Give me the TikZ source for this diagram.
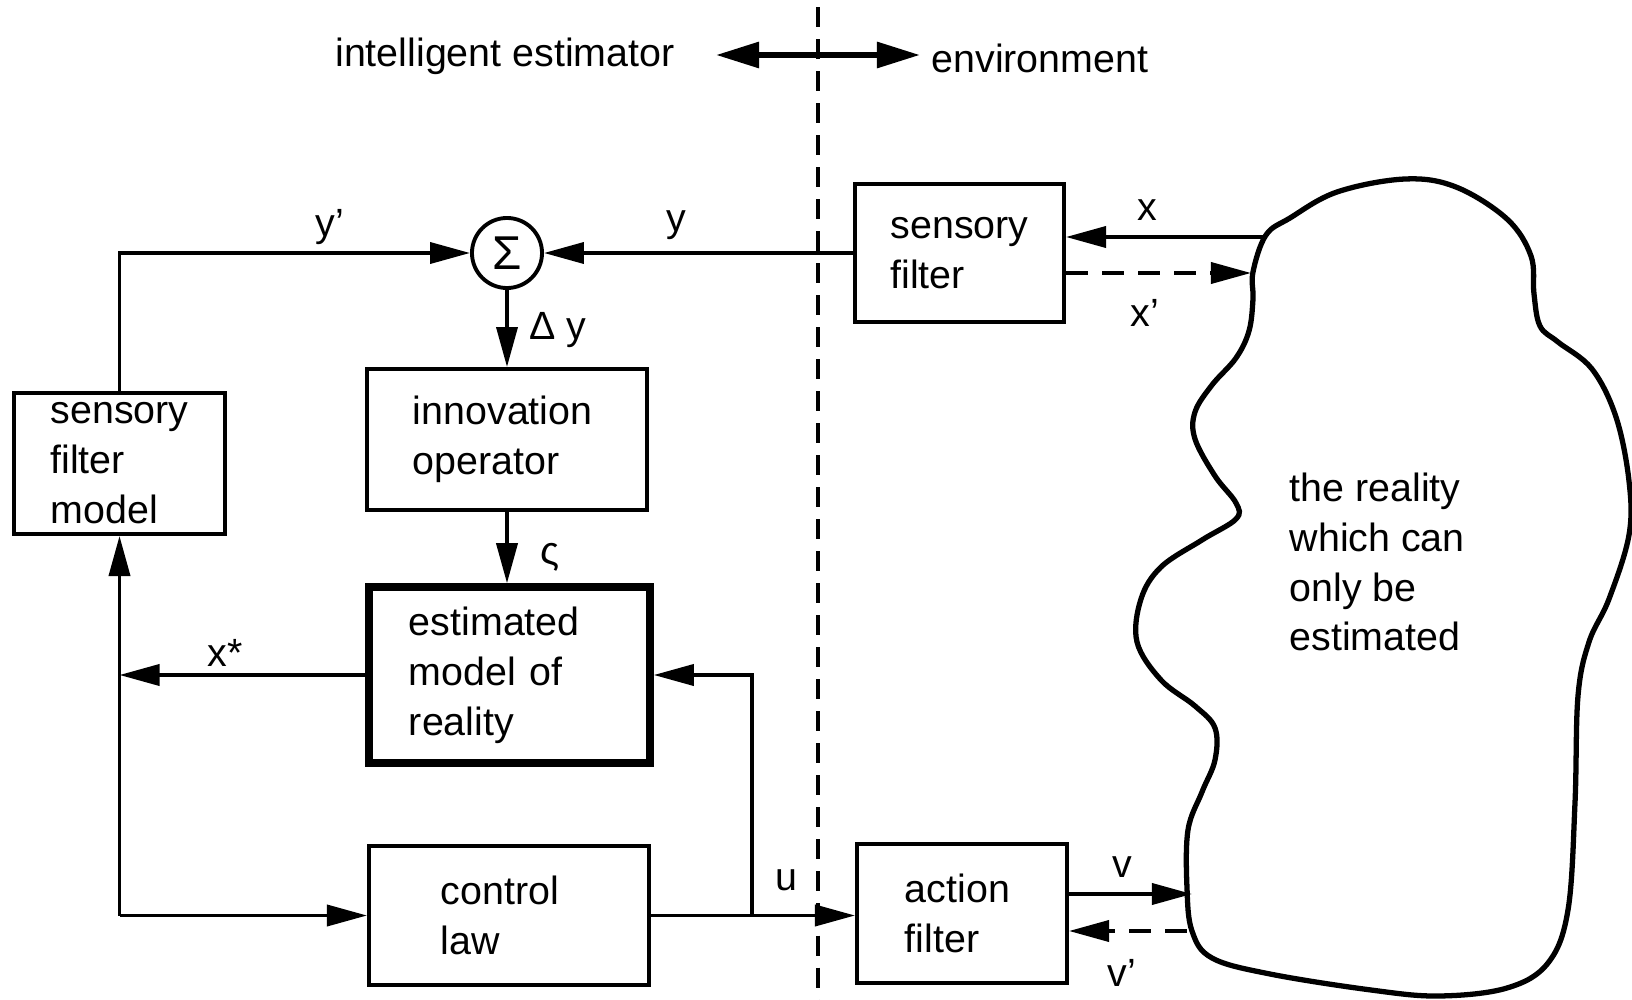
\documentclass[tikz,border=0pt]{standalone}
\usepackage{fontspec}
\setmainfont{Liberation Sans}
\usetikzlibrary{arrows.meta}
\begin{document}
\begin{tikzpicture}[x=0.01cm,y=-0.01cm,
  font=\fontsize{11.2}{14.2}\selectfont,
  box/.style={draw, line width=1.1pt, align=left, inner sep=0pt},
  thickbox/.style={box, line width=2.1pt},
  conn/.style={line width=1.05pt},
  arr/.style={conn, -{Triangle[length=0.4cm,width=0.21cm]}},
  darr/.style={arr, dash pattern=on 0.22cm off 0.14cm},
  dblarr/.style={line width=1.7pt, {Triangle[length=0.43cm,width=0.25cm]}-{Triangle[length=0.43cm,width=0.25cm]}},
  sepline/.style={line width=1pt, dash pattern=on 0.2cm off 0.12cm},
  lbl/.style={inner sep=0pt},
  blob/.style={line width=1.5pt},
]
\useasboundingbox (0,0) rectangle (1632,1000);

% top labels
\node[lbl] (ie) at (505,56) {intelligent estimator};
\node[lbl] (env) at (1040,58) {environment};
\coordinate (al) at (716,55);
\coordinate (ar) at (920,55);
\draw[dblarr] (al) -- (ar);

% separator
\coordinate (st) at (818,7);
\coordinate (sb) at (818,1000);
\draw[sepline] (st) -- (sb);

% boxes
\node[box, minimum width=2.11cm, minimum height=1.41cm] (sfm) at (119.5,463.5) {sensory\\filter\\model};
\node[box, minimum width=2.80cm, minimum height=1.41cm, text width=1.88cm, inner xsep=0.46cm] (innov) at (507,439.5) {innovation\\operator};
\node[thickbox, minimum width=2.81cm, minimum height=1.76cm, text width=2.01cm, inner xsep=0.4cm] (est) at (509.5,675) {estimated\\model of\\reality};
\node[box, minimum width=2.80cm, minimum height=1.39cm, text width=1.36cm, inner xsep=0.72cm] (ctrl) at (509,915.5) {control\\law};
\node[box, minimum width=2.09cm, minimum height=1.38cm] (sf) at (959.5,253) {sensory\\filter};
\node[box, minimum width=2.10cm, minimum height=1.39cm, text width=1.14cm, inner xsep=0.48cm] (af) at (962,913.5) {action\\filter};

% sum
\node[draw, circle, line width=1.1pt, minimum size=0.7cm, inner sep=0pt, font=\fontsize{13.5}{15}\selectfont] (sum) at (507,253) {Σ};

% reality blob
\draw[blob] plot[smooth cycle, tension=0.6] coordinates {
(1266,235) (1290,218) (1337,192) (1405,179) (1456,187) (1507,219) (1531,256)
(1534,294) (1540,326) (1558,342) (1592,369) (1616,417) (1629,481) (1629,535)
(1609,599) (1589,642) (1578,696) (1575,803) (1568,910) (1548,963) (1507,988)
(1439,996) (1371,990) (1270,974) (1212,958) (1192,931) (1187,888) (1188,830)
(1202,792) (1215,760) (1215,728) (1195,706) (1161,680) (1137,642) (1141,599)
(1161,567) (1202,540) (1236,519) (1236,503) (1215,476) (1195,439) (1195,412)
(1212,385) (1236,358) (1249,331) (1253,299) (1253,272)};
\node[lbl, align=left, anchor=west, font=\fontsize{11.2}{14.2}\selectfont] (realtxt) at (1289,562) {the reality\\which can\\only be\\estimated};

% blob contact points
\coordinate (bx) at (1266,237);
\coordinate (bxp) at (1251,273);
\coordinate (bv) at (1192,894);
\coordinate (bvp) at (1187,931);

% connectors
\draw[arr] (sf.west) -- (sum.east);
\draw[arr] (sfm.north) |- (sum.west);
\draw[arr] (sum.south) -- (innov.north);
\draw[arr] (innov.south) -- (innov.south |- est.north);
\coordinate (j1) at (sfm.south |- est.west);
\draw[arr] (est.west) -- (j1);
\coordinate (j2) at (sfm.south |- ctrl.west);
\draw[arr] (j2) -- (sfm.south);
\draw[arr] (j2) -- (ctrl.west);
\draw[arr] (ctrl.east) -- (ctrl.east -| af.west);
\coordinate (j3) at (752,915.5);
\draw[arr] (j3) |- (est.east);
\draw[arr] (bx) -- (bx -| sf.east);
\draw[darr] (bxp -| sf.east) -- (bxp);
\draw[arr] (bv -| af.east) -- (bv);
\draw[darr] (bvp) -- (bvp -| af.east);

% labels
\node[lbl] (ly1) at (330,227) {y'};
\node[lbl] (ly) at (676,225) {y};
\node[lbl] (ldy) at (558,330) {Δ y};
\node[lbl] (lz) at (550,557) {ς};
\node[lbl] (lxs) at (225,653) {x*};
\node[lbl] (lu) at (786,880) {u};
\node[lbl] (lx) at (1147,210) {x};
\node[lbl] (lxp) at (1145,313) {x'};
\node[lbl] (lv) at (1122,867) {v};
\node[lbl] (lvp) at (1122,973) {v'};
\end{tikzpicture}
\end{document}
